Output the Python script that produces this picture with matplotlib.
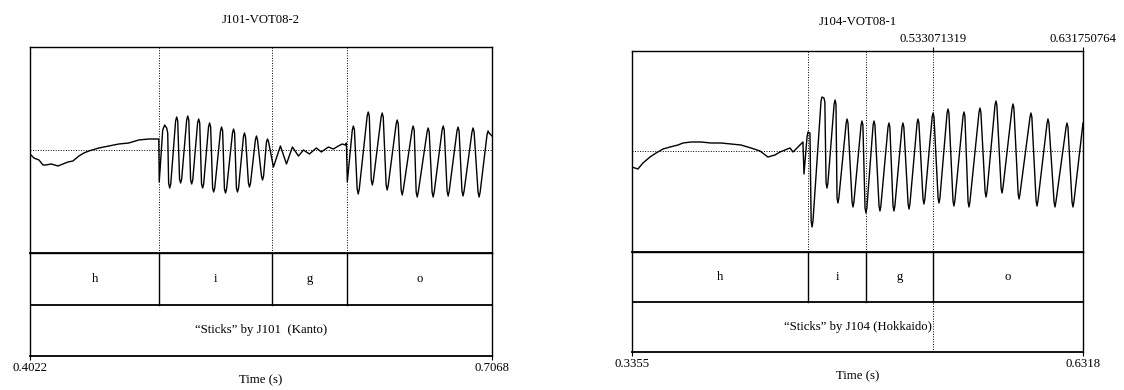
import matplotlib
matplotlib.use("Agg")
import matplotlib.pyplot as plt

plt.rcParams['font.family'] = ['Liberation Serif', 'DejaVu Serif']

# ---------------- data (time in s, amplitude in relative units) ----------------
left_title = "J101-VOT08-2"
left_range = [0.4022, 0.7068]
# [h] aspiration / pre-release part
left_h_t = [0.4022,0.4048,0.4081,0.4108,0.4127,0.4160,0.4186,0.4206,0.4239,0.4272,0.4305,0.4344,
            0.4377,0.4410,0.4476,0.4542,0.4607,0.4673,0.4739,0.4805,0.4864,0.4871]
left_h_a = [-0.04,-0.08,-0.10,-0.15,-0.15,-0.14,-0.15,-0.16,-0.14,-0.12,-0.11,-0.06,
            -0.03,-0.01,0.02,0.04,0.06,0.07,0.10,0.11,0.11,0.11]
# [i] vowel
left_i_t = [0.4874,0.4897,0.4910,0.4923,0.4930,
            0.4936,0.4943,0.4950, 0.4982,0.4989,0.4996, 0.5008,0.5015,0.5022, 0.5055,0.5062,0.5069,
            0.5081,0.5088,0.5095, 0.5127,0.5134,0.5141, 0.5153,0.5160,0.5167, 0.5199,0.5206,0.5213,
            0.5226,0.5233,0.5240, 0.5278,0.5285,0.5292, 0.5304,0.5311,0.5318, 0.5357,0.5364,0.5371,
            0.5383,0.5390,0.5397, 0.5429,0.5436,0.5443, 0.5462,0.5469,0.5476, 0.5508,0.5515,0.5522,
            0.5548,0.5555,0.5562, 0.5581,0.5588,0.5595, 0.5627]
left_i_a = [-0.32,0.20,0.25,0.22,0.17,
            -0.33,-0.38,-0.34, 0.29,0.33,0.29, -0.29,-0.33,-0.29, 0.30,0.34,0.30,
            -0.30,-0.34,-0.30, 0.27,0.31,0.27, -0.34,-0.38,-0.34, 0.23,0.27,0.23,
            -0.38,-0.42,-0.38, 0.19,0.23,0.19, -0.39,-0.43,-0.39, 0.17,0.21,0.17,
            -0.38,-0.42,-0.38, 0.13,0.17,0.13, -0.33,-0.37,-0.33, 0.10,0.14,0.10,
            -0.26,-0.30,-0.26, 0.08,0.11,0.08, -0.17]
# [g] closure
left_g_t = [0.5673,0.5713,0.5752,0.5792,0.5825,0.5864,0.5910,0.5943,0.5989,0.6022,0.6055,0.6081,0.6101,0.6108]
left_g_a = [0.04,-0.14,0.03,-0.06,0.00,-0.04,0.02,-0.02,0.03,0.01,0.04,0.06,0.05,0.07]
# [o] vowel
left_o_t = [0.6114, 0.6147,0.6154,0.6161, 0.6179,0.6186,0.6193, 0.6245,0.6252,0.6259, 0.6272,0.6279,0.6286,
            0.6337,0.6344,0.6351, 0.6370,0.6377,0.6384, 0.6436,0.6443,0.6450, 0.6469,0.6476,0.6483,
            0.6541,0.6548,0.6555, 0.6568,0.6575,0.6582, 0.6640,0.6647,0.6654, 0.6673,0.6680,0.6687,
            0.6739,0.6746,0.6753, 0.6772,0.6779,0.6786, 0.6837,0.6844,0.6851, 0.6870,0.6877,0.6884,
            0.6936,0.6943,0.6950, 0.6976,0.6983,0.6990, 0.7035,0.7042,0.7049, 0.7068]
left_o_a = [-0.32, 0.20,0.24,0.20, -0.39,-0.44,-0.39, 0.34,0.38,0.34, -0.30,-0.35,-0.30,
            0.33,0.37,0.33, -0.35,-0.40,-0.35, 0.26,0.30,0.26, -0.40,-0.45,-0.40,
            0.20,0.24,0.20, -0.42,-0.47,-0.42, 0.18,0.22,0.18, -0.42,-0.47,-0.42,
            0.20,0.24,0.20, -0.41,-0.46,-0.41, 0.19,0.23,0.19, -0.41,-0.46,-0.41,
            0.18,0.22,0.18, -0.42,-0.47,-0.42, 0.15,0.19,0.17, 0.14]
left_bounds = [0.4874, 0.5620, 0.6111]
left_caption = "\u201cSticks\u201d by J101  (Kanto)"

right_title = "J104-VOT08-1"
right_range = [0.3355, 0.6318]
# [h]
right_h_t = [0.3355,0.3394,0.3427,0.3473,0.3513,0.3559,0.3605,0.3657,0.3690,0.3743,0.3808,0.3874,0.3940,
             0.4005,0.4071,0.4137,0.4196,0.4248,0.4294,0.4327,0.4360,0.4393,0.4413,0.4446,0.4478,
             0.4485,0.4505,0.4511]
right_h_a = [-0.16,-0.18,-0.12,-0.06,-0.02,0.02,0.04,0.06,0.08,0.09,0.09,0.08,0.08,
             0.07,0.06,0.03,0.00,-0.06,-0.04,-0.01,0.01,0.03,-0.01,0.04,0.09,
             -0.23,0.14,0.19]
# [i], [g], [o] voiced part
right_v_t = [0.4524, 0.4532,0.4538,0.4544, 0.4597,0.4603,0.4616,0.4622, 0.4630,0.4636,0.4642,
             0.4683,0.4689,0.4695, 0.4702,0.4708,0.4714, 0.4762,0.4768,0.4774, 0.4801,0.4807,0.4813,
             0.4860,0.4866,0.4872, 0.4886,0.4892,0.4898, 0.4939,0.4945,0.4951, 0.4978,0.4984,0.4990,
             0.5037,0.5043,0.5049, 0.5070,0.5076,0.5082, 0.5129,0.5135,0.5141, 0.5169,0.5175,0.5181,
             0.5228,0.5234,0.5240, 0.5267,0.5273,0.5279, 0.5327,0.5333,0.5339, 0.5366,0.5372,0.5378,
             0.5425,0.5431,0.5437, 0.5464,0.5470,0.5476, 0.5530,0.5536,0.5542, 0.5563,0.5569,0.5575,
             0.5635,0.5641,0.5647, 0.5675,0.5681,0.5687, 0.5740,0.5746,0.5752, 0.5780,0.5786,0.5792,
             0.5852,0.5858,0.5864, 0.5892,0.5898,0.5904, 0.5970,0.5976,0.5982, 0.6010,0.6016,0.6022,
             0.6082,0.6088,0.6094, 0.6128,0.6134,0.6140, 0.6207,0.6213,0.6219, 0.6246,0.6252,0.6258,
             0.6318]
right_v_a = [0.18, -0.70,-0.76,-0.70, 0.50,0.54,0.53,0.49, -0.32,-0.37,-0.32,
             0.47,0.51,0.47, -0.47,-0.52,-0.47, 0.28,0.32,0.28, -0.51,-0.56,-0.51,
             0.26,0.30,0.26, -0.57,-0.62,-0.57, 0.26,0.30,0.26, -0.55,-0.60,-0.55,
             0.24,0.28,0.24, -0.55,-0.60,-0.55, 0.24,0.28,0.24, -0.53,-0.58,-0.53,
             0.28,0.32,0.28, -0.48,-0.53,-0.48, 0.34,0.38,0.34, -0.47,-0.52,-0.47,
             0.38,0.42,0.38, -0.50,-0.55,-0.50, 0.35,0.39,0.35, -0.51,-0.56,-0.51,
             0.39,0.43,0.39, -0.41,-0.46,-0.41, 0.46,0.50,0.46, -0.37,-0.42,-0.37,
             0.43,0.47,0.43, -0.43,-0.48,-0.43, 0.34,0.38,0.34, -0.50,-0.55,-0.50,
             0.28,0.32,0.28, -0.51,-0.56,-0.51, 0.24,0.28,0.24, -0.51,-0.56,-0.51,
             0.28]
right_bounds = [0.4511, 0.4893, 0.533071319]
right_caption = "\u201cSticks\u201d by J104 (Hokkaido)"
right_top_ticks = [0.533071319, 0.631750764]
right_top_labels = ["0.533071319", "0.631750764"]

segments = ["h", "i", "g", "o"]
x_label = "Time (s)"

# ---------------- layout ----------------
W, H = 1124, 390
fig = plt.figure(figsize=(W / 100, H / 100), dpi=100)
FS = 9.2

def box(x0, x1, y0, y1):
    return [x0 / W, 1 - y1 / H, (x1 - x0) / W, (y1 - y0) / H]

dot = (0, (1, 1.6))

def panel(px0, px1, wy0, wy1, ty1, yl, t, a, bounds, rng, title, title_y,
          caption, cursor=None, top_ticks=None, top_labels=None):
    axw = fig.add_axes(box(px0, px1, wy0, wy1))
    axt = fig.add_axes(box(px0, px1, wy1, ty1))
    for ax in (axw, axt):
        ax.set_xlim(rng)
        for s in ax.spines.values():
            s.set_linewidth(1.0)
            s.set_color('black')
    axw.set_ylim(yl)
    axw.plot(t, a, color='black', lw=1.0, solid_joinstyle='round')
    axw.axhline(0, color='black', lw=0.7, ls=dot)
    for b in bounds:
        axw.axvline(b, color='black', lw=0.7, ls=dot)
    axw.set_yticks([])
    axw.set_xticks([])
    axw.spines['bottom'].set_linewidth(1.3)
    if top_ticks is not None:
        axw.set_xticks(top_ticks)
        axw.set_xticklabels(top_labels, fontsize=FS)
        axw.tick_params(axis='x', top=True, labeltop=True, bottom=False,
                        labelbottom=False, direction='out', length=3,
                        width=0.8, pad=1)
    # tiers
    axt.set_ylim(0, 2)
    axt.set_yticks([])
    axt.axhline(1, color='black', lw=1.3)
    for b in bounds:
        axt.plot([b, b], [1, 2], color='black', lw=1.0)
    if cursor is not None:
        axt.plot([cursor, cursor], [0, 1], color='black', lw=0.7, ls=dot)
    edges = [rng[0]] + list(bounds) + [rng[1]]
    for i, lab in enumerate(segments):
        axt.text((edges[i] + edges[i + 1]) / 2, 1.5, lab, ha='center',
                 va='center', fontsize=FS)
    axt.text((rng[0] + rng[1]) / 2, 0.5, caption, ha='center', va='center',
             fontsize=FS)
    axt.spines['bottom'].set_linewidth(1.3)
    axt.set_xticks(rng)
    axt.set_xticklabels(["%.4f" % v for v in rng], fontsize=FS)
    axt.tick_params(axis='x', direction='out', length=3, width=0.8, pad=1.5)
    axt.set_xlabel(x_label, fontsize=FS, labelpad=0)
    fig.text(((px0 + px1) / 2) / W, 1 - title_y / H, title, ha='center',
             va='center', fontsize=FS)
    return axw, axt

left_t = left_h_t + left_i_t + left_g_t + left_o_t
left_a = left_h_a + left_i_a + left_g_a + left_o_a
right_t = right_h_t + right_v_t
right_a = right_h_a + right_v_a

panel(30, 492, 47, 253, 356, (-1.03, 1.03), left_t, left_a, left_bounds,
      left_range, left_title, 20, left_caption)
panel(632, 1083, 51, 252, 352, (-1.01, 1.00), right_t, right_a, right_bounds,
      right_range, right_title, 22, right_caption, cursor=right_bounds[2],
      top_ticks=right_top_ticks, top_labels=right_top_labels)

fig.savefig("out.png", dpi=100)
